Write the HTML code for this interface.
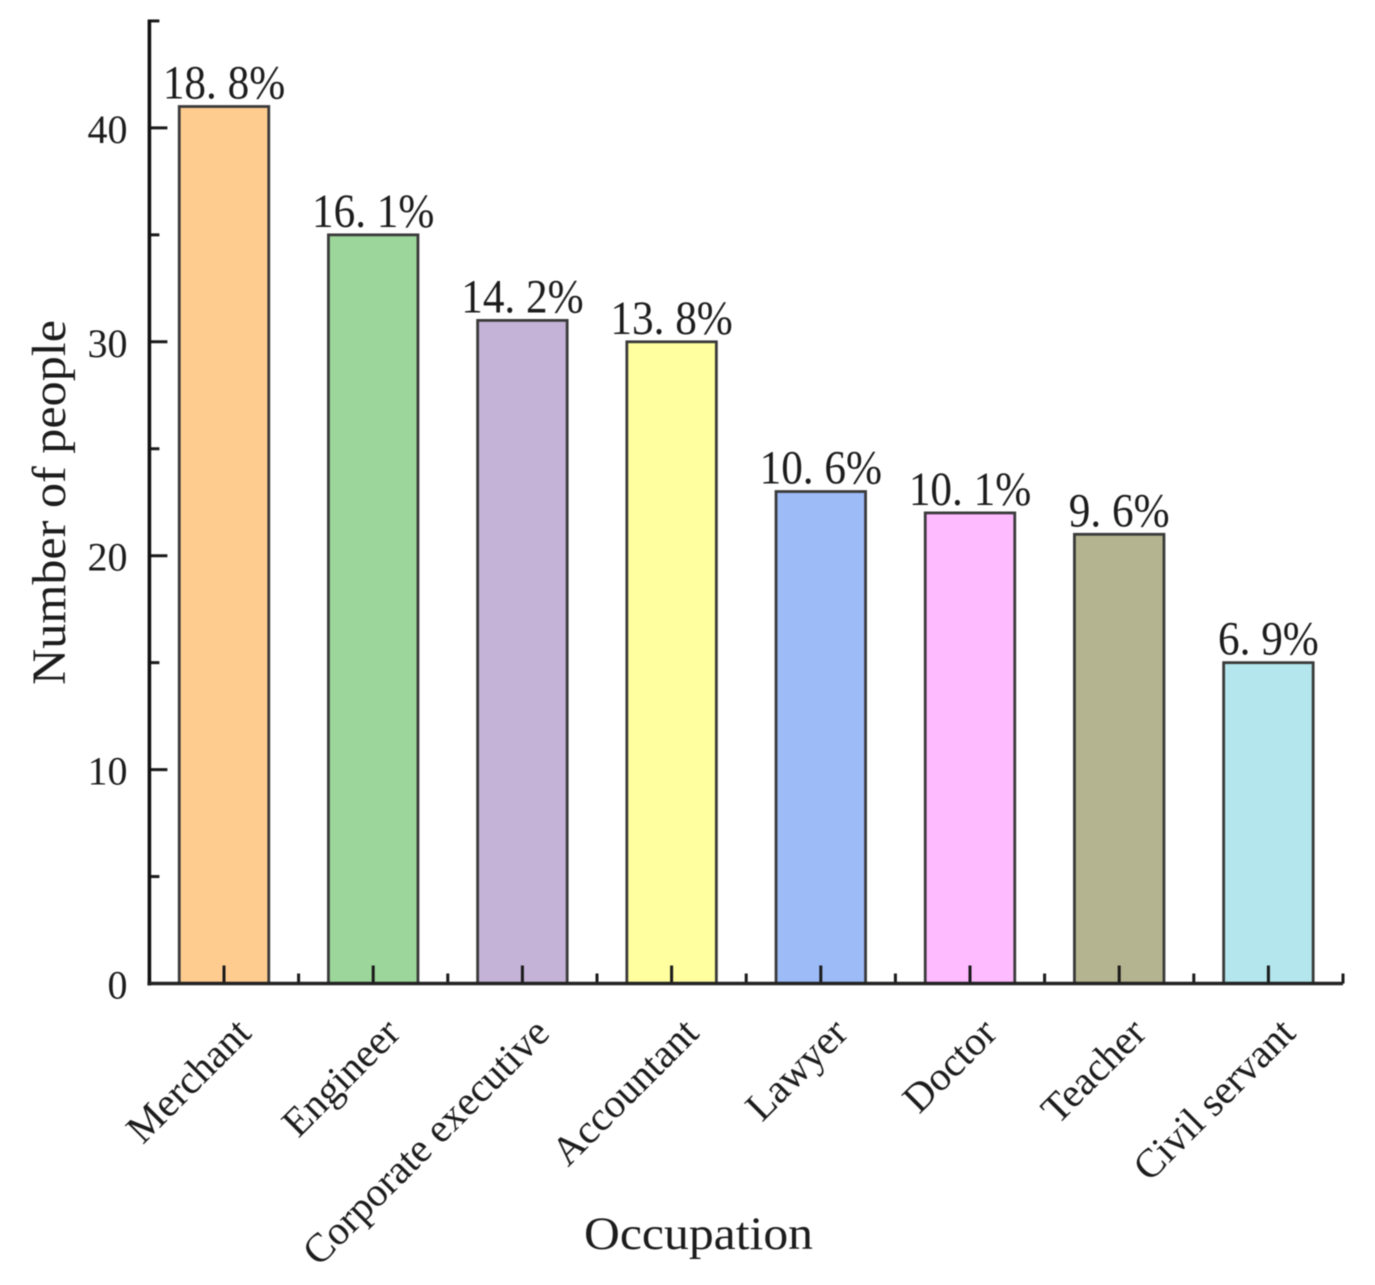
<!DOCTYPE html>
<html lang="en">
<head>
<meta charset="utf-8">
<title>Number of people by occupation</title>
<style>
html,body{margin:0;padding:0;background:#fff;}
body{width:1375px;height:1285px;overflow:hidden;}
svg{display:block;filter:blur(0.55px);}
text{font-family:"Liberation Serif","Noto Serif CJK SC",serif;fill:#1c1c1c;}
</style>
</head>
<body>
<svg id="chart" xmlns="http://www.w3.org/2000/svg" width="1375" height="1285" viewBox="0 0 1375 1285">
  <rect x="0" y="0" width="1375" height="1285" fill="#ffffff"/>
  <g id="bars"></g>
  <g id="axes"></g>
  <g id="labels"></g>
  <text transform="translate(65,685) rotate(-90)" font-size="48" textLength="365" lengthAdjust="spacingAndGlyphs">Number of people</text>
  <text x="584" y="1249" font-size="47" textLength="229" lengthAdjust="spacingAndGlyphs">Occupation</text>
</svg>
<script>
const categories = ["Merchant","Engineer","Corporate executive","Accountant","Lawyer","Doctor","Teacher","Civil servant"];
const peopleCounts = [41,35,31,30,23,22,21,15];
const percentLabels = ["18. 8%","16. 1%","14. 2%","13. 8%","10. 6%","10. 1%","9. 6%","6. 9%"];
const barColors = ["#FFCC8F","#9DD69B","#C5B3D7","#FFFF9F","#9DBBF7","#FFBBFF","#B5B490","#B3E6ED"];
const yMajorTicks = [0,10,20,30,40];
const yMinorTicks = [5,15,25,35,45];

const NS = "http://www.w3.org/2000/svg";
const plotLeft = 149.4, plotRight = 1343, plotBottom = 983.5;
const unitHeight = 21.39;
const step = (plotRight - plotLeft) / categories.length;
const barWidth = step * 0.6;

function yScale(v){ return plotBottom - v * unitHeight; }
function xCenter(i){ return plotLeft + step * (i + 0.5); }
function xEdge(i){ return plotLeft + step * i; }

function make(tag, attrs, parent, txt){
  const el = document.createElementNS(NS, tag);
  for (const k in attrs) el.setAttribute(k, attrs[k]);
  if (txt !== undefined) el.textContent = txt;
  parent.appendChild(el);
  return el;
}
const barsG = document.getElementById("bars");
const axesG = document.getElementById("axes");
const labelsG = document.getElementById("labels");

categories.forEach(function(cat, i){
  const top = yScale(peopleCounts[i]);
  const bar = make("rect", {x: xCenter(i) - barWidth/2, y: top, width: barWidth, height: plotBottom - top, fill: barColors[i], stroke: "#3a3a3a", "stroke-width": 2.8}, barsG);
  
  

  const pct = make("text", {transform: "translate(" + xCenter(i) + "," + (top - 8) + ") scale(0.9,1)", "font-size": 48, "text-anchor": "middle", fill: "#2a2a2a"}, labelsG, percentLabels[i]);
  
  

  const catLabel = make("text", {transform: "translate(" + (xCenter(i) + 29) + ",1035) rotate(-45)", "font-size": 40.7, "text-anchor": "end", fill: "#111"}, labelsG, cat);
  
  

  const xMajor = make("line", {x1: xCenter(i), x2: xCenter(i), y1: plotBottom, y2: plotBottom - 18, stroke: "#1a1a1a", "stroke-width": 3}, axesG);
  
  

  const xMinor = make("line", {x1: xEdge(i + 1), x2: xEdge(i + 1), y1: plotBottom, y2: plotBottom - 10, stroke: "#1a1a1a", "stroke-width": 3}, axesG);
  
  
});

yMajorTicks.forEach(function(v){
  if (v > 0) {
    const tick = make("line", {x1: plotLeft, x2: plotLeft + 18, y1: yScale(v), y2: yScale(v), stroke: "#1a1a1a", "stroke-width": 3}, axesG);
    
    
  }
  const lab = make("text", {x: 127.5, y: yScale(v) + 15, "font-size": 40, "text-anchor": "end", fill: "#444"}, labelsG, String(v));
  
  
});

yMinorTicks.forEach(function(v){
  const tick = make("line", {x1: plotLeft, x2: plotLeft + 10, y1: yScale(v), y2: yScale(v), stroke: "#1a1a1a", "stroke-width": 3}, axesG);
  
  
});

const yAxis = make("line", {x1: plotLeft, x2: plotLeft, y1: yScale(45) - 1.5, y2: plotBottom + 2, stroke: "#111", "stroke-width": 3.6}, axesG);



const xAxis = make("line", {x1: plotLeft - 2, x2: plotRight, y1: plotBottom, y2: plotBottom, stroke: "#222", "stroke-width": 3.6}, axesG);


</script>
</body>
</html>
